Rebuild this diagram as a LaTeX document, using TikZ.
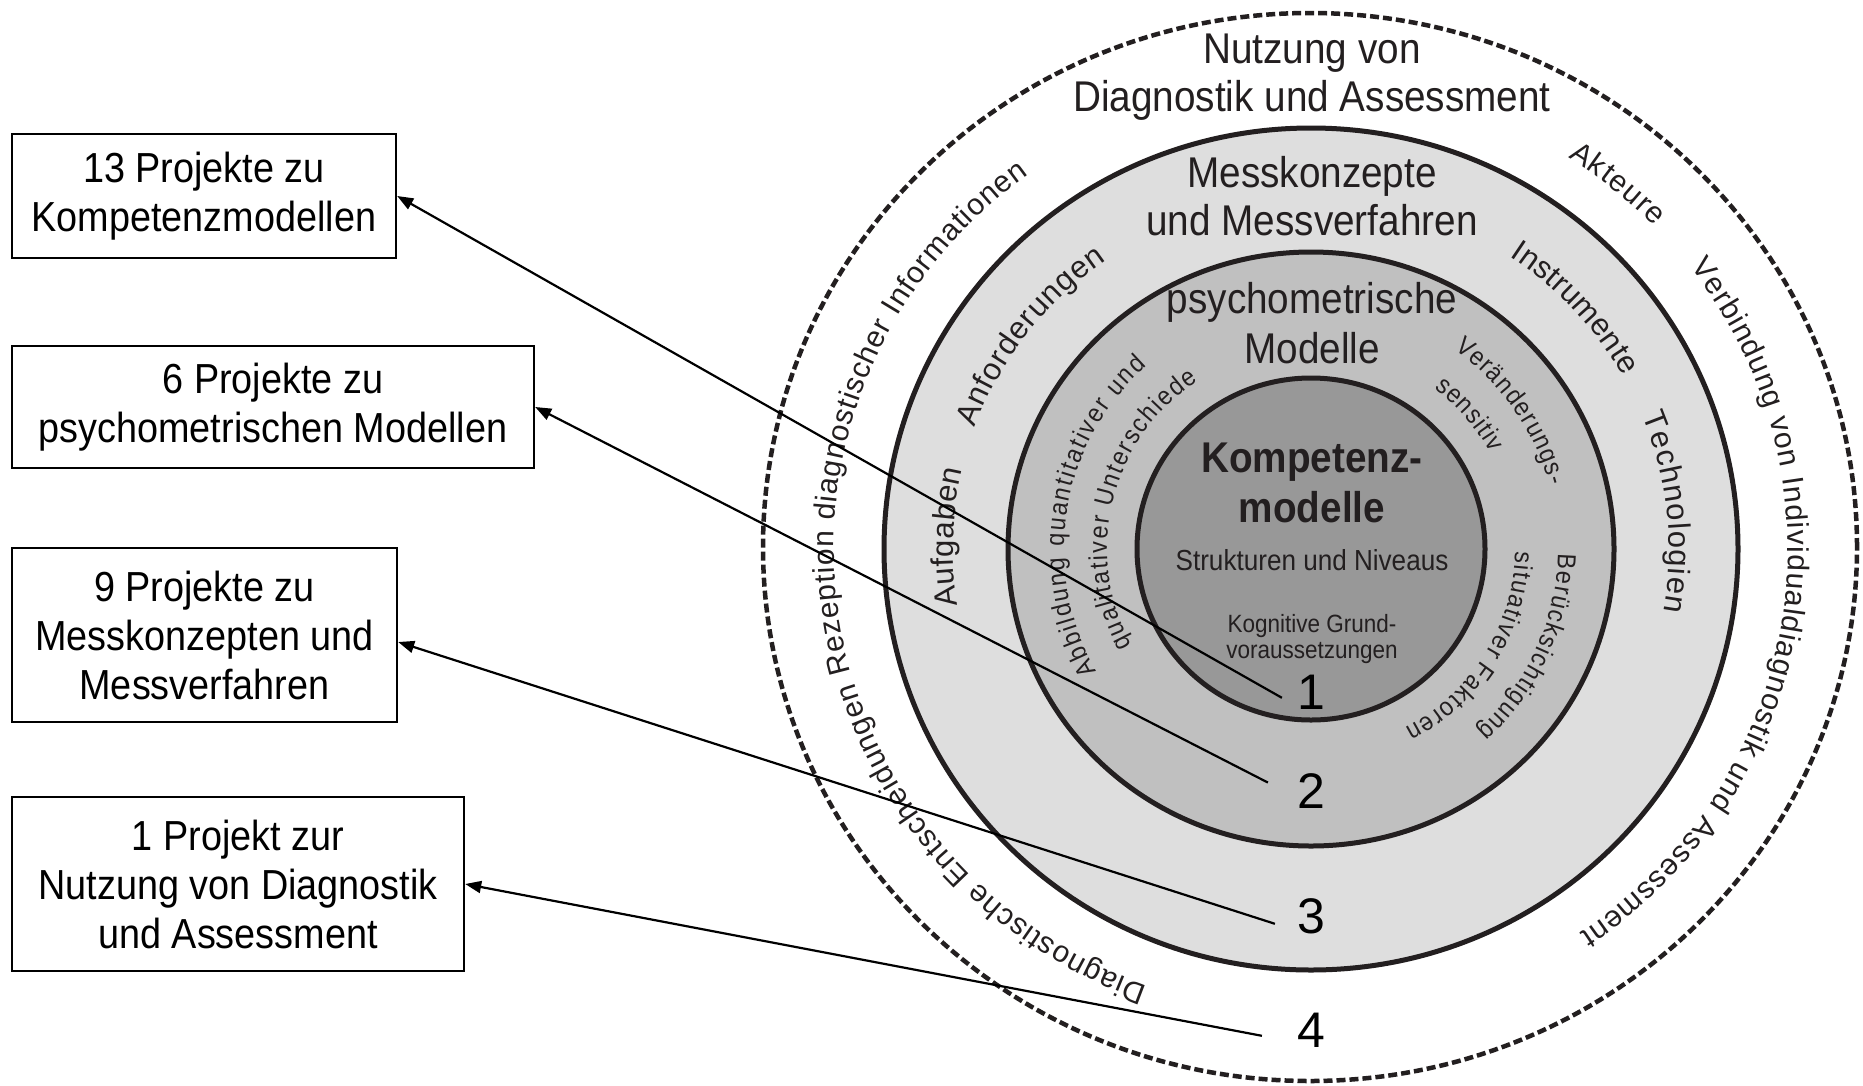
\documentclass[tikz,border=0pt]{standalone}
\usepackage{fontspec}
\setmainfont{Liberation Sans}
\newfontfamily\fA{Liberation Sans}[FakeStretch=0.9]
\usetikzlibrary{decorations.text,arrows.meta}
\definecolor{ink}{RGB}{35,31,32}
\definecolor{ringA}{RGB}{222,222,222}
\definecolor{ringB}{RGB}{192,192,192}
\definecolor{ringC}{RGB}{152,152,152}
\newcommand\fsTitle{\fA\fontsize{43}{49}\selectfont}
\newcommand\fsBox{\fA\fontsize{42}{49}\selectfont}
\newcommand\fsOuter{\color{ink}\fontsize{30}{36}\selectfont}
\newcommand\fsMid{\color{ink}\fontsize{31}{36}\selectfont}
\newcommand\fsInner{\color{ink}\fA\fontsize{26}{30}\selectfont}
\newcommand\ringtext[6]{%
  \path[decorate,decoration={text along path,text={|#1|#2},text align=fit to path}]
    (C) ++(#3:#5 and #6) arc[start angle=#3,end angle=#4,x radius=#5,y radius=#6];}
\tikzset{
  box/.style={draw=black,line width=2.4pt,fill=white,align=center,inner sep=0pt,font=\fsBox},
  num/.style={font=\fontsize{50}{50}\selectfont,inner sep=0pt,anchor=base,text=black},
  lbl/.style={anchor=base,inner sep=0pt,text=ink},
  conn/.style={line width=2.2pt,-{Triangle[length=16pt,width=12pt]}},
  ring/.style={draw=ink,line width=5pt}
}
\begin{document}
\begin{tikzpicture}[x=1pt,y=1pt]
\useasboundingbox (0,0) rectangle (1863,-1085);
\fill[white] (0,0) rectangle (1863,-1085);
\coordinate (C) at (1311,-549);
\coordinate (D) at (1310,-547);
% rings
\draw[draw=ink,line width=4.5pt,dash pattern=on 9pt off 4pt] (D) ellipse [x radius=547pt,y radius=534pt];
\draw[ring,fill=ringA] (C) ellipse [x radius=427pt,y radius=421pt];
\draw[ring,fill=ringB] (C) ellipse [x radius=303pt,y radius=297pt];
\draw[ring,fill=ringC] (C) ellipse [x radius=174pt,y radius=171pt];
% curved texts
\ringtext{\fsOuter}{Diagnostische Entscheidungen Rezeption diagnostischer Informationen}{250}{126.3}{477pt}{465pt}
\ringtext{\fsOuter}{Akteure}{57.4}{43.9}{477pt}{465pt}
\ringtext{\fsOuter}{Verbindung von Individualdiagnostik und Assessment}{37.4}{-55.7}{477pt}{465pt}
\ringtext{\fsMid}{Aufgaben}{189.3}{166.9}{358pt}{352pt}
\ringtext{\fsMid}{Anforderungen}{159.9}{124.9}{358pt}{352pt}
\ringtext{\fsMid}{Instrumente}{56.3}{29.4}{358pt}{352pt}
\ringtext{\fsMid}{Technologien}{22.2}{-10.2}{358pt}{352pt}
\ringtext{\fsInner}{Abbildung quantitativer und}{210}{131.7}{247pt}{245pt}
\ringtext{\fsInner}{qualitativer Unterschiede}{208.6}{123.6}{204pt}{202pt}
\ringtext{\fsInner}{Veränderungs-}{54.6}{15}{247pt}{245pt}
\ringtext{\fsInner}{sensitiv}{52.8}{28.4}{204pt}{202pt}
\ringtext{\fsInner}{Berücksichtigung}{-1.1}{-47.8}{247pt}{245pt}
\ringtext{\fsInner}{situativer Faktoren}{-0.7}{-62.5}{204pt}{202pt}
% straight texts
\node[lbl,font=\fsTitle] (t1) at (1312,-63) {Nutzung von};
\node[lbl,font=\fsTitle] (t2) at (1312,-111) {Diagnostik und Assessment};
\node[lbl,font=\fsTitle] (t3) at (1312,-187) {Messkonzepte};
\node[lbl,font=\fsTitle] (t4) at (1312,-235) {und Messverfahren};
\node[lbl,font=\fsTitle] (t5) at (1312,-313) {psychometrische};
\node[lbl,font=\fsTitle] (t6) at (1312,-363) {Modelle};
\node[lbl,font=\fsTitle\bfseries] (t7) at (1312,-472) {Kompetenz-};
\node[lbl,font=\fsTitle\bfseries] (t8) at (1312,-522) {modelle};
\node[lbl,font=\fA\fontsize{29}{32}\selectfont] (t9) at (1312,-570) {Strukturen und Niveaus};
\node[lbl,font=\fA\fontsize{25}{28}\selectfont] (t10) at (1312,-632) {Kognitive Grund-};
\node[lbl,font=\fA\fontsize{25}{28}\selectfont] (t11) at (1312,-658) {voraussetzungen};
% numbers
\node[num] (n1) at (1311,-709) {1};
\node[num] (n2) at (1311,-808) {2};
\node[num] (n3) at (1311,-933) {3};
\node[num] (n4) at (1311,-1047) {4};
% boxes
\node[box,minimum width=384pt,minimum height=124pt] (b1) at (204,-196) {13 Projekte zu\\Kompetenzmodellen};
\node[box,minimum width=522pt,minimum height=122pt] (b2) at (273,-407) {6 Projekte zu\\psychometrischen Modellen};
\node[box,minimum width=385pt,minimum height=174pt] (b3) at (204.5,-635) {9 Projekte zu\\Messkonzepten und\\Messverfahren};
\node[box,minimum width=452pt,minimum height=174pt] (b4) at (238,-884) {1 Projekt zur\\Nutzung von Diagnostik\\und Assessment};
% connectors
\draw[conn] ([xshift=-15pt,yshift=-6pt]n1.west) -- (b1.east);
\draw[conn] ([xshift=-29pt,yshift=8pt]n2.west) -- (b2.east);
\draw[conn] ([xshift=-22pt,yshift=-8pt]n3.west) -- ([yshift=-7pt]b3.east);
\draw[conn] ([xshift=-35pt,yshift=-6pt]n4.west) -- (b4.east);
\end{tikzpicture}
\end{document}
